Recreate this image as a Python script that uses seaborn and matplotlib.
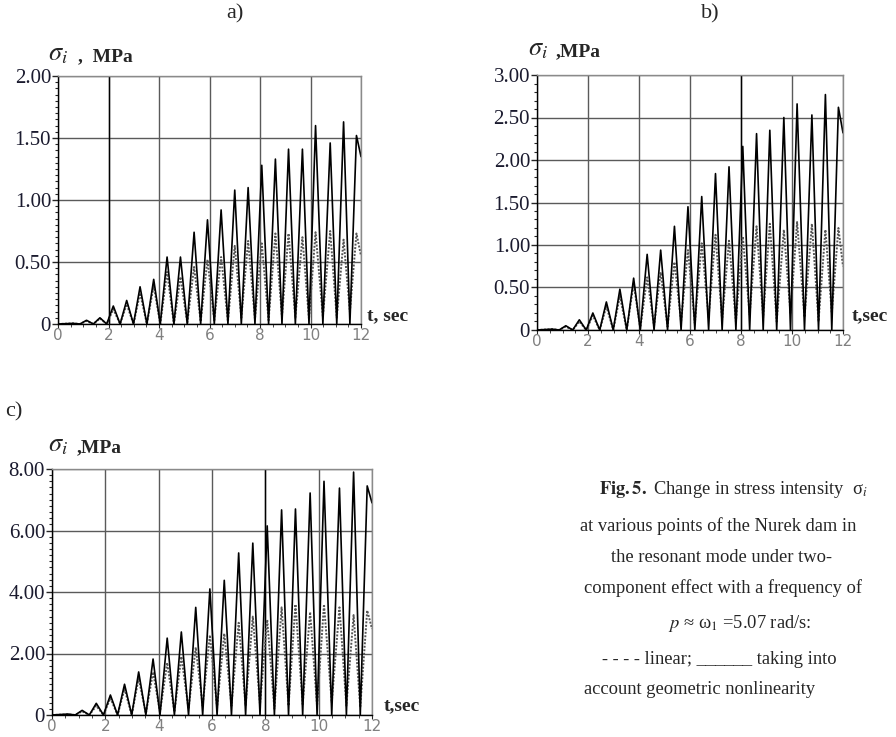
import matplotlib
matplotlib.use('Agg')
import matplotlib.pyplot as plt
import pandas as pd
import seaborn as sns
from matplotlib.ticker import MultipleLocator

# peak / trough times (s), shared by all three records
peak_t = [0.6, 1.13, 1.66, 2.19, 2.72, 3.25, 3.79, 4.32, 4.85, 5.39, 5.92,
          6.46, 7.0, 7.53, 8.07, 8.61, 9.13, 9.68, 10.2, 10.78, 11.31, 11.82]
trough_t = [0.87, 1.4, 1.93, 2.46, 2.99, 3.52, 4.05, 4.59, 5.12, 5.65, 6.19,
            6.73, 7.26, 7.8, 8.34, 8.87, 9.4, 9.94, 10.49, 11.04, 11.56]

# a) point 1
a_nl_peaks = [0.005, 0.03, 0.05, 0.145, 0.19, 0.30, 0.36, 0.54, 0.54, 0.74, 0.84,
              0.92, 1.08, 1.10, 1.28, 1.33, 1.41, 1.41, 1.60, 1.46, 1.63, 1.52]
a_nl_troughs = [0.0] * 21
a_nl_end = 1.35
a_lin_peaks = [0.005, 0.025, 0.045, 0.12, 0.16, 0.25, 0.31, 0.42, 0.38, 0.46, 0.52,
               0.54, 0.63, 0.67, 0.65, 0.73, 0.73, 0.70, 0.74, 0.75, 0.68, 0.73]
a_lin_troughs = [0, 0, 0, 0, 0, 0, 0, 0, 0.01, 0.02, 0.03,
                 0.02, 0.05, 0.04, 0.03, 0.06, 0.05, 0.04, 0.06, 0.05, 0.1]
a_lin_end = 0.55

# b) point 2
b_nl_peaks = [0.01, 0.05, 0.12, 0.20, 0.33, 0.48, 0.61, 0.89, 0.94, 1.22, 1.45,
              1.57, 1.84, 1.92, 2.16, 2.31, 2.35, 2.50, 2.66, 2.53, 2.77, 2.62]
b_nl_troughs = [0.0] * 21
b_nl_end = 2.32
b_lin_peaks = [0.01, 0.04, 0.10, 0.17, 0.28, 0.40, 0.55, 0.62, 0.68, 0.80, 0.94,
               1.02, 1.12, 1.05, 1.10, 1.22, 1.25, 1.18, 1.27, 1.25, 1.18, 1.20]
b_lin_troughs = [0, 0, 0, 0, 0, 0, 0.02, 0.05, 0.04, 0.1, 0.08,
                 0.15, 0.12, 0.1, 0.18, 0.15, 0.1, 0.2, 0.15, 0.1, 0.2]
b_lin_end = 0.75

# c) point 3
c_nl_peaks = [0.03, 0.15, 0.38, 0.65, 1.0, 1.4, 1.82, 2.5, 2.7, 3.5, 4.1,
              4.38, 5.27, 5.59, 6.15, 6.67, 6.7, 7.22, 7.6, 7.38, 7.9, 7.45]
c_nl_troughs = [0.0] * 21
c_nl_end = 6.9
c_lin_peaks = [0.02, 0.12, 0.3, 0.55, 0.85, 1.2, 1.4, 1.7, 1.9, 2.2, 2.6,
               2.65, 3.0, 3.2, 3.1, 3.5, 3.6, 3.35, 3.6, 3.5, 3.25, 3.4]
c_lin_troughs = [0, 0, 0, 0, 0, 0.05, 0.1, 0.1, 0.2, 0.3, 0.25,
                 0.3, 0.3, 0.35, 0.2, 0.3, 0.35, 0.3, 0.4, 0.3, 0.25]
c_lin_end = 2.8

x_ticks = [0, 2, 4, 6, 8, 10, 12]
a_yticks = [0, 0.5, 1.0, 1.5, 2.0]
a_ylabels = ['0', '0.50', '1.00', '1.50', '2.00']
b_yticks = [0, 0.5, 1.0, 1.5, 2.0, 2.5, 3.0]
b_ylabels = ['0', '0.50', '1.00', '1.50', '2.00', '2.50', '3.00']
c_yticks = [0, 2, 4, 6, 8]
c_ylabels = ['0', '2.00', '4.00', '6.00', '8.00']

caption = [
    r'$\mathbf{Fig.5.}$ Change in stress intensity  σ$_i$',
    'at various points of the Nurek dam in',
    'the resonant mode under two-',
    'component effect with a frequency of',
    r'$p$ ≈ ω$_1$ =5.07 rad/s:',
    '- - - - linear; ______ taking into',
    'account geometric nonlinearity',
]

sns.set_style('white')
plt.rcParams['font.family'] = ['Liberation Serif', 'DejaVu Serif']
plt.rcParams['mathtext.fontset'] = 'stix'


def make_curve(peaks, troughs, end_val):
    t, v = [0.0], [0.0]
    for i, p in enumerate(peaks):
        t.append(peak_t[i])
        v.append(p)
        if i < len(troughs):
            t.append(trough_t[i])
            v.append(troughs[i])
    t.append(12.0)
    v.append(end_val)
    return pd.DataFrame({'t': t, 'sigma': v})


def panel(ax, nl, lin, yticks, ylabels, yminor, dark_x):
    ax.grid(True, color='#5a5a5a', lw=1.0)
    ax.axvline(dark_x, color='black', lw=1.0, zorder=1)
    sns.lineplot(data=lin, x='t', y='sigma', ax=ax, color='#555555', lw=1.4,
                 linestyle=(0, (1, 0.8)), estimator=None, sort=False)
    sns.lineplot(data=nl, x='t', y='sigma', ax=ax, color='black', lw=1.2,
                 estimator=None, sort=False)
    ax.set_xlim(0, 12)
    ax.set_ylim(0, yticks[-1])
    ax.set_xticks(x_ticks)
    ax.set_xticklabels([str(x) for x in x_ticks], color='#808080',
                       fontsize=11, family='DejaVu Sans')
    ax.set_yticks(yticks)
    ax.set_yticklabels(ylabels, fontsize=15, color='#1a1a2e')
    ax.yaxis.set_minor_locator(MultipleLocator(yminor))
    ax.xaxis.set_minor_locator(MultipleLocator(0.5))
    ax.tick_params(axis='y', which='major', length=4, width=1, pad=1, left=True)
    ax.tick_params(axis='y', which='minor', length=2, width=0.8, left=True)
    ax.tick_params(axis='x', which='major', length=3, pad=0, bottom=True)
    ax.tick_params(axis='x', which='minor', length=2, bottom=True)
    ax.set_xlabel('')
    ax.set_ylabel('')
    for s in ['top', 'right']:
        ax.spines[s].set_color('#8a8a8a')
    for s in ['left', 'bottom']:
        ax.spines[s].set_color('black')
    for s in ax.spines.values():
        s.set_linewidth(1.0)
        s.set_visible(True)


fig = plt.figure(figsize=(8.96, 7.37), dpi=100)
W, H = 896, 737


def axes_px(x0, y0, x1, y1):
    return fig.add_axes([x0 / W, 1 - y1 / H, (x1 - x0) / W, (y1 - y0) / H])


ax_a = axes_px(58, 76, 361, 324)
ax_b = axes_px(537, 75, 843, 330)
ax_c = axes_px(52, 469, 372, 715)

panel(ax_a, make_curve(a_nl_peaks, a_nl_troughs, a_nl_end),
      make_curve(a_lin_peaks, a_lin_troughs, a_lin_end),
      a_yticks, a_ylabels, 0.05, 2)
panel(ax_b, make_curve(b_nl_peaks, b_nl_troughs, b_nl_end),
      make_curve(b_lin_peaks, b_lin_troughs, b_lin_end),
      b_yticks, b_ylabels, 0.1, 8)
panel(ax_c, make_curve(c_nl_peaks, c_nl_troughs, c_nl_end),
      make_curve(c_lin_peaks, c_lin_troughs, c_lin_end),
      c_yticks, c_ylabels, 0.2, 8)


def ftext(x, y, s, **kw):
    fig.text(x / W, 1 - y / H, s, **kw)


# panel letters
ftext(235, 14, 'a)', fontsize=16, ha='center', va='center')
ftext(710, 14, 'b)', fontsize=16, ha='center', va='center')
ftext(14, 412, 'c)', fontsize=16, ha='center', va='center')

# axis titles: big italic sigma, then bold unit
ftext(48, 55, r'$\sigma_i$', fontsize=19, va='center', ha='left')
ftext(78, 57, ',  MPa', fontsize=14, fontweight='bold', va='center', ha='left')
ftext(528, 50, r'$\sigma_i$', fontsize=19, va='center', ha='left')
ftext(556, 52, ',MPa', fontsize=14, fontweight='bold', va='center', ha='left')
ftext(48, 446, r'$\sigma_i$', fontsize=19, va='center', ha='left')
ftext(77, 448, ',MPa', fontsize=14, fontweight='bold', va='center', ha='left')

ftext(367, 316, 't, sec', fontsize=14, fontweight='bold', va='center')
ftext(852, 316, 't,sec', fontsize=14, fontweight='bold', va='center')
ftext(384, 706, 't,sec', fontsize=14, fontweight='bold', va='center')

# caption
cap_y = [490, 526, 557, 588, 624, 659, 690]
cap_x = [733, 718, 721, 723, 740, 719, 700]
for s, x, y in zip(caption, cap_x, cap_y):
    ftext(x, y, s, fontsize=13.3, ha='center', va='center')

fig.savefig('out.png', dpi=100, facecolor='white')
